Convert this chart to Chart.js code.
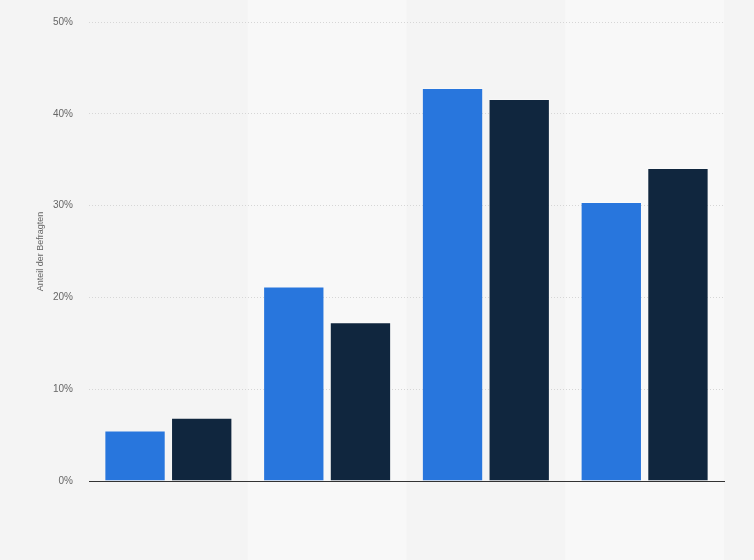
<!DOCTYPE html>
<html>
<head>
<meta charset="utf-8">
<script src="https://cdn.jsdelivr.net/npm/chart.js@4"></script>
<style>
  html, body { margin: 0; padding: 0; background: #f4f4f4; }
  #wrap { width: 754px; height: 560px; }
</style>
</head>
<body>
<div id="wrap"><canvas id="chart"></canvas></div>
<script>
const categories = ['', '', '', ''];
const seriesA = [5.5, 21.2, 42.8, 30.4];
const seriesB = [6.9, 17.3, 41.6, 34.1];
const yTicks = [0, 10, 20, 30, 40, 50];

// light column bands behind every second category, full canvas height
const bandPlugin = {
  id: 'bands',
  beforeDraw(chart) {
    const { ctx, scales: { x } } = chart;
    ctx.save();
    ctx.fillStyle = '#f4f4f4';
    ctx.fillRect(0, 0, chart.width, chart.height);
    const w = x.width / categories.length;
    categories.forEach((c, i) => {
      if (i % 2 === 1) {
        ctx.fillStyle = '#f8f8f8';
        ctx.fillRect(x.getPixelForValue(i) - w / 2, 0, w, chart.height);
      }
    });
    ctx.restore();
  }
};

new Chart(document.getElementById('chart'), {
  type: 'bar',
  data: {
    labels: categories,
    datasets: [
      { data: seriesA, backgroundColor: '#2876dd', borderColor: 'rgba(255,255,255,0.25)', borderWidth: 1 },
      { data: seriesB, backgroundColor: '#10263e', borderColor: 'rgba(255,255,255,0.25)', borderWidth: 1 }
    ]
  },
  options: {
    animation: false,
    responsive: true,
    maintainAspectRatio: false,
    devicePixelRatio: 1,
    layout: { padding: { top: 16, right: 30, bottom: 0, left: 35 } },
    categoryPercentage: 0.84,
    barPercentage: 0.92,
    plugins: { legend: { display: false }, tooltip: { enabled: false } },
    scales: {
      x: {
        grid: { display: false },
        border: { display: true, color: '#333', width: 1 },
        ticks: { display: false },
        afterFit(scale) { scale.height = 79; }
      },
      y: {
        min: 0,
        max: 50,
        afterBuildTicks(scale) { scale.ticks = yTicks.map(v => ({ value: v })); },
        ticks: {
          color: '#666',
          font: { family: 'Arial, "Liberation Sans"', size: 10 },
          padding: 16,
          callback: v => v + '%'
        },
        grid: { color: '#d6d6d6', drawTicks: false, lineWidth: 1 },
        border: { display: false, dash: [1, 2] },
        title: {
          display: true,
          text: 'Anteil der Befragten',
          color: '#666',
          font: { family: 'Arial, "Liberation Sans"', size: 9 },
          padding: { top: 0, bottom: 4 }
        },
        afterFit(scale) { scale.width = 54; }
      }
    }
  },
  plugins: [bandPlugin]
});
</script>
</body>
</html>
